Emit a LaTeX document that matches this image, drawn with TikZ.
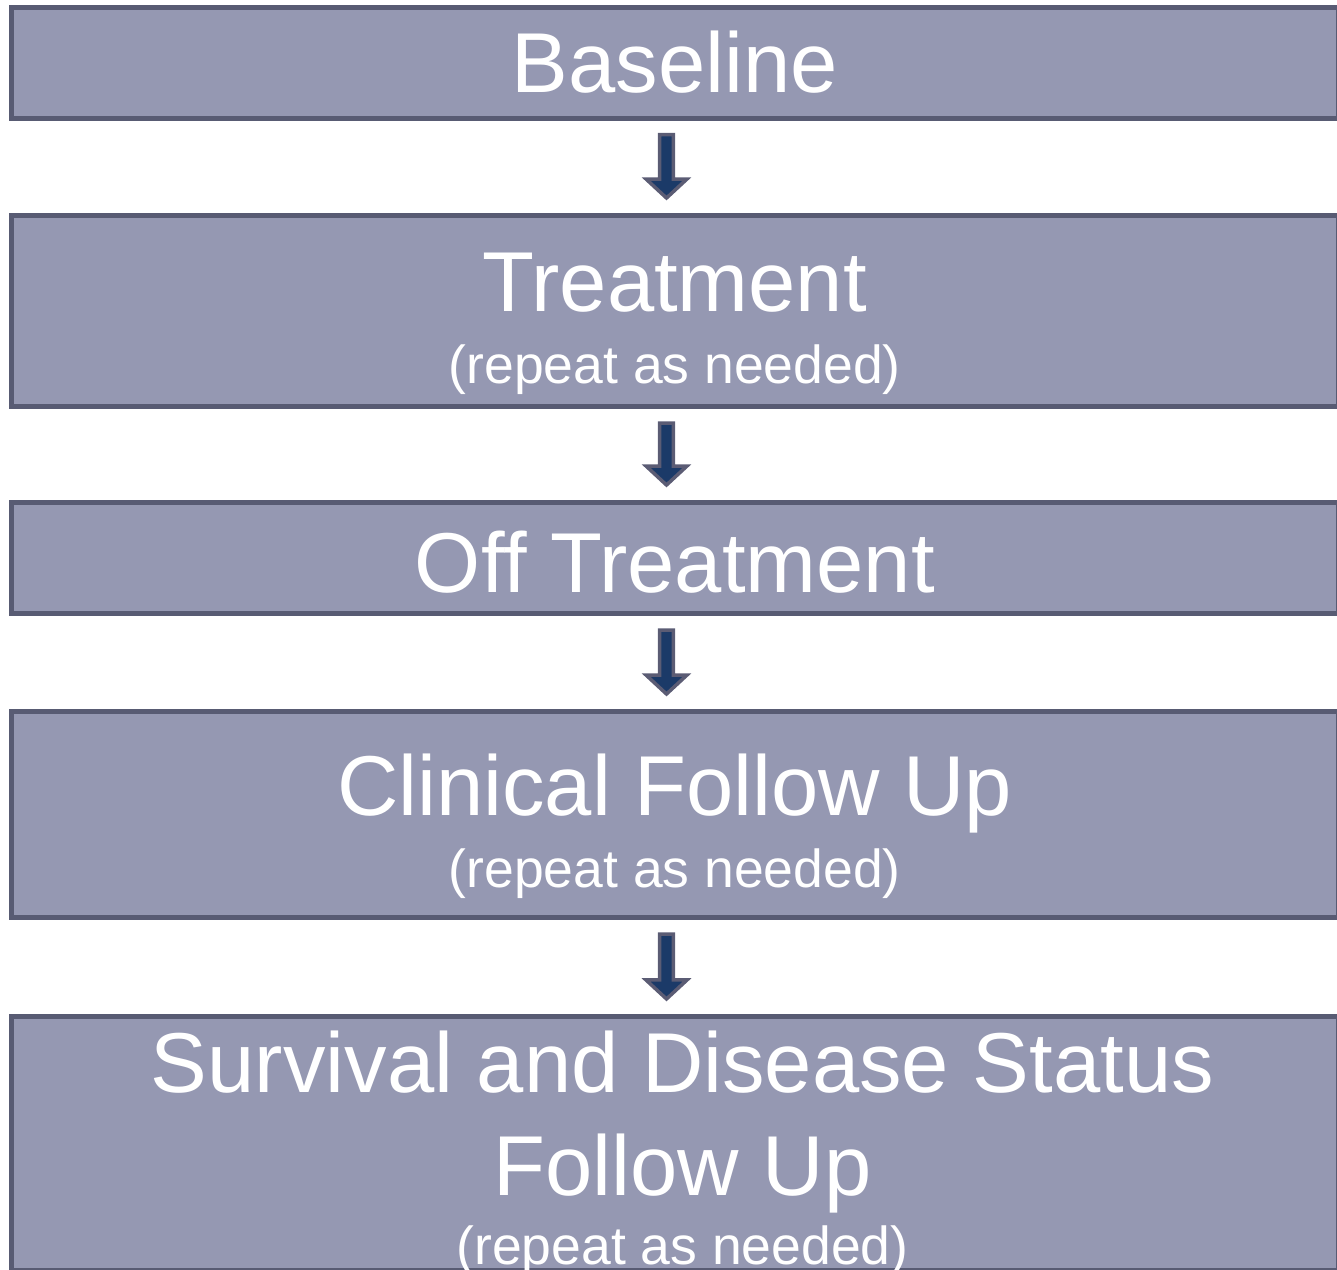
\documentclass[tikz,border=0pt]{standalone}
\usepackage{fontspec}
\setmainfont{Liberation Sans}
\usetikzlibrary{calc}
\definecolor{boxfill}{HTML}{9598B2}
\definecolor{boxline}{HTML}{585B73}
\definecolor{arrfill}{HTML}{1B3A68}
\definecolor{arrline}{HTML}{5B5C74}
\tikzset{
  stage/.style={draw=boxline, fill=boxfill, line width=5pt, rectangle, inner sep=0pt, minimum width=1327.5pt},
  bigtxt/.style={text=white, anchor=base, inner sep=0pt, font=\fontsize{85}{92}\selectfont},
  smalltxt/.style={text=white, anchor=base, inner sep=0pt, font=\fontsize{53.5}{60}\selectfont},
  blockarrow/.style={draw=arrline, fill=arrfill, line width=3.5pt, line join=miter}
}
\newcommand\axc{666.5pt}
\newcommand\flowarrow[2]{%
  \path[blockarrow] let \p1=(#1.south), \p2=(#2.north) in
    (\axc-6.8pt,\y1-14pt) -- (\axc+6.8pt,\y1-14pt) -- (\axc+6.8pt,\y2+34pt)
    -- (\axc+20.5pt,\y2+34pt) -- (\axc,\y2+15pt) -- (\axc-20.5pt,\y2+34pt)
    -- (\axc-6.8pt,\y2+34pt) -- cycle;}
\begin{document}
\begin{tikzpicture}[x=1pt,y=-1pt]
\useasboundingbox (0,0) rectangle (1337,1269);
\clip (0,0) rectangle (1337,1269);
\node[stage, minimum height=111pt] (b1) at (674.75,62.7) {};
\node[stage, minimum height=191pt] (b2) at (674.75,311) {};
\node[stage, minimum height=111pt] (b3) at (674.75,558) {};
\node[stage, minimum height=206pt] (b4) at (674.75,814.5) {};
\node[stage, minimum height=254.5pt] (b5) at (674.75,1143.7) {};
\node[bigtxt] (t1) at (674.75,92) {Baseline};
\node[bigtxt] (t2) at (674.75,311) {Treatment};
\node[smalltxt] (s2) at (674.75,383) {(repeat as needed)};
\node[bigtxt] (t3) at (674.75,592) {Off Treatment};
\node[bigtxt] (t4) at (674.75,815) {Clinical Follow Up};
\node[smalltxt] (s4) at (674.75,887) {(repeat as needed)};
\node[bigtxt] (t5) at (682.5,1092) {Survival and Disease Status};
\node[bigtxt] (t5b) at (682.5,1195) {Follow Up};
\node[smalltxt] (s5) at (682.5,1264) {(repeat as needed)};
\flowarrow{b1}{b2}
\flowarrow{b2}{b3}
\flowarrow{b3}{b4}
\flowarrow{b4}{b5}
\end{tikzpicture}
\end{document}
